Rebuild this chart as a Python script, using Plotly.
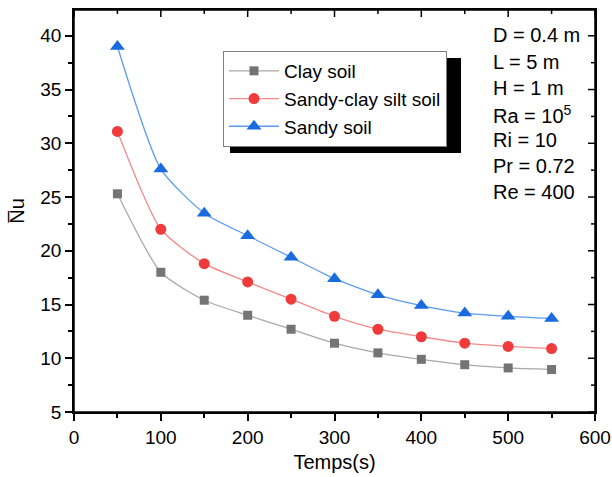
import plotly.graph_objects as go

time_s = [50, 100, 150, 200, 250, 300, 350, 400, 450, 500, 550]
clay = [25.3, 18.0, 15.4, 14.0, 12.7, 11.4, 10.5, 9.9, 9.4, 9.1, 8.95]
sandy_clay_silt = [31.1, 22.0, 18.8, 17.1, 15.5, 13.9, 12.7, 12.0, 11.4, 11.1, 10.9]
sandy = [39.0, 27.6, 23.5, 21.4, 19.4, 17.4, 15.9, 14.9, 14.2, 13.9, 13.7]

series_names = ["Clay soil", "Sandy-clay silt soil", "Sandy soil"]
param_labels = ["D = 0.4 m", "L = 5 m", "H = 1 m", "Ra = 10<sup>5</sup>",
                "Ri = 10", "Pr = 0.72", "Re = 400"]
x_ticks = [0, 100, 200, 300, 400, 500, 600]
x_minor = [50, 150, 250, 350, 450, 550]
y_ticks = [5, 10, 15, 20, 25, 30, 35, 40]
y_minor = [7.5, 12.5, 17.5, 22.5, 27.5, 32.5, 37.5, 42.5]

FONT = "Arial, Liberation Sans, sans-serif"
L, R, T, B = 74, 17, 10, 65
W, H = 612, 477
PW, PH = W - L - R, H - T - B


def px_x(p):
    return (p - L) / PW


def px_y(p):
    return (H - B - p) / PH


fig = go.Figure()
styles = [
    (clay, "#A9A9A9", "#747474", "square", 9),
    (sandy_clay_silt, "#F58A8A", "#EF3B3B", "circle", 11),
    (sandy, "#5B9BF0", "#1A6BE0", "triangle-up", 13),
]
for name, (vals, lc, mc, sym, sz) in zip(series_names, styles):
    fig.add_trace(go.Scatter(
        x=time_s, y=vals, name=name, mode="lines+markers",
        line=dict(color=lc, width=1.3, shape="spline", smoothing=0.6),
        marker=dict(color=mc, symbol=sym, size=sz, line=dict(width=0)),
    ))

axis_common = dict(showline=True, linecolor="black", linewidth=1.5,
                   showgrid=False, zeroline=False, ticklen=7, tickwidth=1.5,
                   tickcolor="black", automargin=False, mirror=True,
                   tickfont=dict(family=FONT, size=19, color="black"))

fig.update_layout(
    width=W, height=H,
    margin=dict(l=L, r=R, t=T, b=B, autoexpand=False),
    plot_bgcolor="white", paper_bgcolor="white",
    font=dict(family=FONT, size=19, color="black"),
    xaxis=dict(range=[0, 600], tickvals=x_ticks, ticks="outside",
               minor=dict(ticks="outside", ticklen=4, tickvals=x_minor,
                          tickcolor="black", tickwidth=1.5),
               title=dict(text="Temps(s)", font=dict(family=FONT, size=20),
                          standoff=8),
               **axis_common),
    yaxis=dict(range=[5, 42.4], tickvals=y_ticks, ticks="outside",
               minor=dict(ticks="outside", ticklen=4, tickvals=y_minor,
                          tickcolor="black", tickwidth=1.5),
               title=dict(text="N\u0305u", font=dict(family=FONT, size=20),
                          standoff=10),
               **axis_common),
    legend=dict(x=px_x(223), y=px_y(51), xanchor="left", yanchor="top",
                bgcolor="white", bordercolor="#7F7F7F", borderwidth=1,
                font=dict(family=FONT, size=19, color="black"),
                tracegroupgap=0, itemwidth=50),
    showlegend=True,
)

# plot frame (top and right sides) with inward ticks
fig.add_shape(type="rect", xref="paper", yref="paper", x0=0, x1=1, y0=0, y1=1,
              line=dict(color="black", width=1.5), layer="above")
for v in x_ticks + x_minor:
    ln = 7 if v in x_ticks else 4
    fig.add_shape(type="line", xref="x", yref="paper", x0=v, x1=v,
                  y0=1, y1=1 - ln / PH, line=dict(color="black", width=1.5),
                  layer="above")
for v in y_ticks + y_minor:
    ln = 7 if v in y_ticks else 4
    fig.add_shape(type="line", xref="paper", yref="y", y0=v, y1=v,
                  x0=1, x1=1 - ln / PW, line=dict(color="black", width=1.5),
                  layer="above")

# legend drop shadow
fig.add_shape(type="rect", xref="paper", yref="paper",
              x0=px_x(230), x1=px_x(461), y0=px_y(153), y1=px_y(58),
              fillcolor="black", line=dict(width=0), layer="above")

ys = [35, 62, 88, 114, 140, 166, 192]
for txt, yp in zip(param_labels, ys):
    fig.add_annotation(text=txt, xref="paper", yref="paper",
                       x=px_x(491), y=px_y(yp), xanchor="left",
                       yanchor="middle", showarrow=False,
                       font=dict(family=FONT, size=20, color="black"))

fig.write_html("out.html")
